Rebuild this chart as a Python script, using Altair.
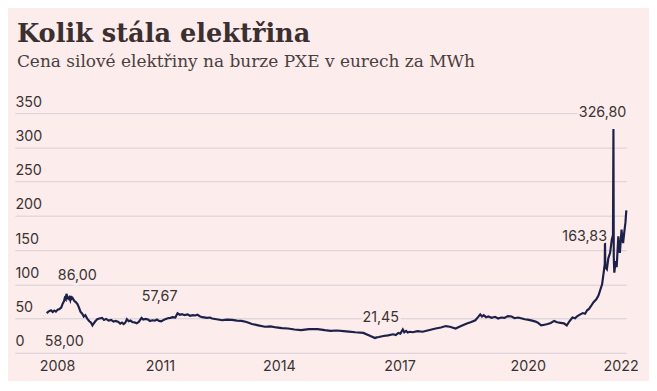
import altair as alt
import pandas as pd

# ---- data ----
dates = [
    "2008-01-02", "2008-01-20", "2008-02-10", "2008-02-25", "2008-03-10", "2008-03-25", "2008-04-10",
    "2008-04-27", "2008-05-12", "2008-05-26", "2008-06-05", "2008-06-13", "2008-06-22", "2008-06-28",
    "2008-07-05", "2008-07-14", "2008-07-23", "2008-08-01", "2008-08-08", "2008-08-15", "2008-08-22",
    "2008-09-06", "2008-09-20", "2008-10-05", "2008-10-19", "2008-11-01", "2008-11-17", "2008-12-01",
    "2008-12-15", "2009-01-01", "2009-01-20", "2009-02-05", "2009-02-17", "2009-03-01", "2009-03-15",
    "2009-04-01", "2009-04-20", "2009-05-15", "2009-06-01", "2009-06-20", "2009-07-13", "2009-08-05",
    "2009-08-25", "2009-09-15", "2009-10-09", "2009-10-25", "2009-11-10", "2009-11-25", "2009-12-10",
    "2009-12-24", "2010-01-10", "2010-01-25", "2010-02-10", "2010-03-01", "2010-03-22", "2010-04-10",
    "2010-05-05", "2010-05-20", "2010-06-10", "2010-07-02", "2010-07-20", "2010-08-10", "2010-09-02",
    "2010-09-20", "2010-10-10", "2010-10-30", "2010-11-20", "2010-12-10", "2010-12-28", "2011-01-20",
    "2011-02-10", "2011-03-05", "2011-03-25", "2011-04-15", "2011-05-05", "2011-05-25", "2011-06-24",
    "2011-07-15", "2011-08-10", "2011-09-01", "2011-09-20", "2011-10-15", "2011-11-03", "2011-12-15",
    "2012-01-10", "2012-01-30", "2012-03-10", "2012-04-30", "2012-06-10", "2012-07-27", "2012-09-10",
    "2012-10-23", "2012-12-05", "2013-01-23", "2013-03-20", "2013-05-20", "2013-07-10", "2013-08-30",
    "2013-10-20", "2013-12-13", "2014-02-10", "2014-04-10", "2014-06-20", "2014-09-06", "2014-11-10",
    "2015-01-02", "2015-02-25", "2015-04-28", "2015-06-15", "2015-08-11", "2015-10-23", "2015-12-20",
    "2016-01-15", "2016-02-03", "2016-02-20", "2016-03-10", "2016-04-20", "2016-06-01", "2016-07-16",
    "2016-08-10", "2016-09-01", "2016-09-20", "2016-10-12", "2016-10-25", "2016-11-10", "2016-11-25",
    "2016-12-13", "2017-01-10", "2017-02-20", "2017-04-08", "2017-06-01", "2017-08-04", "2017-09-20",
    "2017-11-03", "2017-12-10", "2018-01-30", "2018-03-20", "2018-05-12", "2018-06-20", "2018-07-27",
    "2018-08-20", "2018-09-09", "2018-09-25", "2018-10-10", "2018-11-01", "2018-11-21", "2018-12-20",
    "2019-01-20", "2019-02-17", "2019-03-15", "2019-04-15", "2019-05-15", "2019-06-18", "2019-07-15",
    "2019-08-15", "2019-09-20", "2019-10-15", "2019-11-10", "2019-12-20", "2020-01-20", "2020-02-10",
    "2020-03-10", "2020-04-10", "2020-05-08", "2020-06-05", "2020-07-05", "2020-08-01", "2020-09-02",
    "2020-10-01", "2020-10-27", "2020-11-20", "2020-12-17", "2021-01-10", "2021-01-25", "2021-02-14",
    "2021-03-20", "2021-04-10", "2021-04-28", "2021-05-15", "2021-06-01", "2021-06-25", "2021-07-20",
    "2021-08-08", "2021-08-25", "2021-09-10", "2021-09-24", "2021-10-04", "2021-10-06", "2021-10-09",
    "2021-10-23", "2021-11-05", "2021-11-21", "2021-12-06", "2021-12-17", "2021-12-21", "2021-12-24",
    "2021-12-29", "2022-01-10", "2022-01-19", "2022-02-03", "2022-02-10", "2022-02-17", "2022-03-04",
    "2022-03-10", "2022-03-18", "2022-03-28", "2022-04-08", "2022-04-16",
]
prices = [
    58.0, 60.5, 62.0, 59.5, 61.5, 60.0, 63.0,
    64.0, 66.0, 72.0, 75.0, 80.0, 78.0, 86.0,
    82.0, 79.0, 81.0, 77.0, 83.0, 79.0, 80.0,
    76.0, 74.0, 71.0, 66.0, 60.0, 57.0, 53.0,
    55.0, 50.0, 46.0, 44.0, 40.0, 43.0, 46.0,
    49.0, 50.0, 51.0, 48.0, 49.5, 47.0, 48.0,
    45.5, 46.5, 45.0, 42.5, 44.0, 42.0, 44.0,
    49.0, 46.0, 47.0, 45.0, 44.5, 43.0, 45.0,
    51.0, 48.5, 49.5, 48.5, 46.5, 47.5, 47.0,
    48.5, 46.5, 46.0, 48.0, 49.5, 50.5, 51.0,
    52.0, 51.5, 57.67, 55.5, 56.5, 55.0, 56.0,
    54.0, 55.0, 54.5, 55.5, 53.0, 52.0, 51.0,
    51.5, 50.0, 49.0, 47.5, 48.5, 48.0, 47.0,
    46.5, 45.0, 42.0, 40.0, 38.0, 38.5, 37.0,
    36.0, 35.5, 34.0, 33.0, 34.5, 34.5, 33.0,
    32.0, 32.5, 31.7, 31.0, 30.0, 29.0, 25.0,
    23.0, 21.45, 22.5, 23.0, 24.5, 25.5, 27.0,
    26.0, 29.0, 28.0, 34.0, 30.0, 32.0, 29.5,
    30.7, 30.0, 31.5, 30.7, 33.0, 35.5, 37.0,
    39.0, 38.0, 35.5, 39.0, 42.8, 45.0, 47.5,
    52.0, 56.0, 53.0, 55.0, 52.0, 53.0, 51.0,
    52.5, 50.0, 51.5, 51.0, 53.5, 53.0, 50.5,
    51.5, 50.0, 49.0, 48.5, 47.0, 45.5, 44.0,
    40.0, 41.0, 42.0, 43.5, 46.5, 44.5, 43.7,
    43.0, 40.0, 46.0, 51.5, 50.5, 53.0, 55.0,
    58.0, 57.0, 62.0, 64.0, 68.0, 74.0, 78.0,
    83.5, 92.0, 100.0, 117.0, 130.0, 163.83, 125.0,
    122.0, 138.0, 146.0, 165.0, 172.0, 326.8, 140.0,
    117.0, 134.0, 125.0, 170.0, 150.0, 146.0, 180.0,
    170.0, 160.0, 175.0, 190.0, 208.0,
]

# annotations
note_dates = ["2008-01-02", "2008-06-28", "2011-03-25", "2016-02-03", "2021-10-06", "2021-12-21"]
note_values = [58.0, 86.0, 57.67, 21.45, 163.83, 326.8]
note_texts = ["58,00", "86,00", "57,67", "21,45", "163,83", "326,80"]

# x-axis labels (as placed in the original chart)
tick_dates = [(2008, 4, 4), (2010, 10, 18), (2013, 9, 22), (2016, 9, 13), (2019, 11, 10), (2022, 2, 24)]
tick_labels = ["2008", "2011", "2014", "2017", "2020", "2022"]
y_ticks = [0, 50, 100, 150, 200, 250, 300, 350]

# ---- styling ----
BG = "#fcecec"
LINE = "#1d2048"
TXT = "#3a3333"
GRID = "#d6cfd5"
FONT = "Inter"

df = pd.DataFrame({"datum": dates, "cena": prices})
notes = pd.DataFrame({"datum": note_dates, "cena": note_values, "text": note_texts})

label_expr = ""
for (y, m, d), lab in zip(tick_dates, tick_labels):
    label_expr += f"timeFormat(datum.value, '%Y') == '{y}' ? '{lab}' : "
label_expr += "''"

x_scale = alt.Scale(domain=[alt.DateTime(year=2007, month=3, date=22),
                            alt.DateTime(year=2022, month=4, date=16)], nice=False)
y_scale = alt.Scale(domain=[0, 350], nice=False, zero=True)

x_enc = alt.X(
    "datum:T", scale=x_scale, title=None,
    axis=alt.Axis(
        values=[alt.DateTime(year=y, month=m, date=d) for (y, m, d) in tick_dates],
        labelExpr=label_expr, grid=False, domain=False, ticks=False, tickSize=0,
        labelPadding=7, labelFont=FONT, labelFontSize=14.5, labelColor=TXT,
        labelAlign="center", labelFlush=False, labelOverlap=False,
    ),
)
y_enc = alt.Y(
    "cena:Q", scale=y_scale, title=None,
    axis=alt.Axis(
        values=y_ticks, grid=True, gridColor=GRID, gridWidth=1, domain=False, ticks=False,
        tickSize=0, labelPadding=0, labelAlign="left", labelBaseline="bottom",
        labelOffset=-4, labelFont=FONT, labelFontSize=14.5, labelColor=TXT,
        labelOverlap=False,
    ),
)

line = alt.Chart(df).mark_line(color=LINE, strokeWidth=2.2, interpolate="linear").encode(x=x_enc, y=y_enc)

note_base = alt.Chart(notes).encode(x=x_enc, y=y_enc, text="text:N")
dx_list = [-2, 11, 0, 6, 2, -11]
dy_list = [29, -18, -16, -20, -4, -16]
align_list = ["left", "center", "right", "center", "right", "center"]

halo_layers = []
text_layers = []
for i in range(len(note_texts)):
    sub = note_base.transform_filter(alt.datum.text == note_texts[i])
    halo_layers.append(sub.mark_text(
        font=FONT, fontSize=14.5, color=BG, stroke=BG, strokeWidth=5,
        dx=dx_list[i], dy=dy_list[i], align=align_list[i], baseline="middle",
    ))
    text_layers.append(sub.mark_text(
        font=FONT, fontSize=14.5, color=TXT,
        dx=dx_list[i], dy=dy_list[i], align=align_list[i], baseline="middle",
    ))

chart = alt.layer(line, *halo_layers, *text_layers).resolve_axis(x="shared", y="shared").properties(
    width=620,
    height=243,
    background=BG,
    padding={"left": 7, "top": 10, "right": 10, "bottom": 5},
    title=alt.TitleParams(
        text="Kolik stála elektřina",
        subtitle="Cena silové elektřiny na burze PXE v eurech za MWh",
        anchor="start", dx=2,
        font="DejaVu Serif", fontSize=26, fontWeight="bold", color="#3b2f2f",
        subtitleFont="DejaVu Serif", subtitleFontSize=17.2, subtitleColor="#4a3f3f",
        subtitlePadding=6, offset=25,
    ),
).configure_view(stroke=None)

chart.save("out.html", embed_options={"renderer": "svg", "actions": False})
